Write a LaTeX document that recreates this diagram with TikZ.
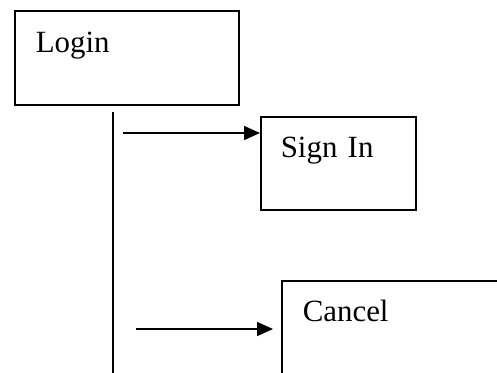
\documentclass[tikz,border=0pt]{standalone}
\usepackage{fontspec}
\setmainfont{Liberation Serif}
\usetikzlibrary{arrows.meta}

\begin{document}
\begin{tikzpicture}[x=1bp,y=-1bp]
        \tikzstyle{box}=[draw=black,line width=1.6bp,rectangle,anchor=north west,inner xsep=20bp,inner ysep=0pt,text width=115bp,align=left,text height=41bp,text depth=52bp,font=\fontsize{31}{36}\selectfont]
        \tikzstyle{msg}=[line width=1.6bp,-{Triangle[length=16bp,width=14bp]}]
        
        \useasboundingbox (0,0) rectangle (497,372);
        \clip (0,0) rectangle (497,372);
        
        \draw node at (14, 10) [box,inner xsep=21bp,text width=182bp,text height=42bp] (login) {Login};
        \draw node at (260, 116) [box] (signin) {Sign In};
        \draw node at (281, 280) [box,inner xsep=21bp,text width=220bp] (cancel) {Cancel};
        
        \coordinate (life top) at (113, 112);
        \coordinate (life end) at (113, 380);
        \coordinate (m1) at (123, 133);
        \coordinate (m2) at (136, 329);
        
        \draw [line width=1.6bp] (life top) to (life end);
        \draw [msg] (m1) to (signin.west |- m1);
        \draw [msg,shorten >=8bp] (m2) to (cancel.west |- m2);
    \end{tikzpicture}
\end{document}
